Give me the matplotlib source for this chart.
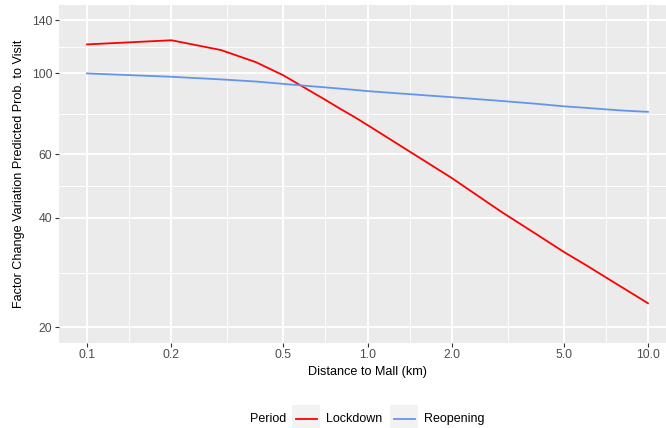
import numpy as np
import matplotlib.pyplot as plt
from matplotlib.lines import Line2D
from matplotlib.patches import Rectangle

plt.rcParams['font.family'] = ['Liberation Sans', 'DejaVu Sans']

# distance to mall (km) and factor change
distance = [0.1, 0.2, 0.3, 0.4, 0.5, 0.6, 0.7, 0.8, 0.9, 1.0,
            2.0, 3.0, 4.0, 5.0, 6.0, 7.0, 8.0, 9.0, 10.0]
lockdown = [120.2, 123.4, 116.0, 107.4, 98.9, 91.1, 85.0, 79.9, 75.8, 72.1,
            51.5, 41.6, 36.1, 32.3, 29.7, 27.6, 25.9, 24.5, 23.3]
reopening = [100.0, 97.9, 96.3, 95.0, 93.6, 92.5, 91.6, 90.8, 90.1, 89.4,
             86.0, 84.0, 82.5, 81.2, 80.4, 79.7, 79.1, 78.7, 78.4]

x_ticks = [0.1, 0.2, 0.5, 1.0, 2.0, 5.0, 10.0]
x_labels = ['0.1', '0.2', '0.5', '1.0', '2.0', '5.0', '10.0']
y_ticks = [20, 40, 60, 100, 140]

W, H = 666, 428
fig = plt.figure(figsize=(W / 100, H / 100), dpi=100)
# panel runs past the right edge, like the cropped original
ax = fig.add_axes([59 / W, 1 - 342.7 / H, (676 - 59) / W, (342.7 - 5) / H])

ax.set_facecolor('#EBEBEB')
for s in ax.spines.values():
    s.set_visible(False)

ax.plot(distance, lockdown, c='#FF0000', lw=1.3, label='Lockdown', zorder=3)
ax.plot(distance, reopening, c='#6495ED', lw=1.3, label='Reopening', zorder=3)

ax.set_xscale('log')
ax.set_yscale('log')
lx = np.log10([0.1, 10.0])
ly = np.log10([20, 140])
ex, ey = 0.05 * (lx[1] - lx[0]), 0.05 * (ly[1] - ly[0])
ax.set_xlim(10 ** (lx[0] - ex), 10 ** (lx[1] + ex))
ax.set_ylim(10 ** (ly[0] - ey), 10 ** (ly[1] + ey))

ax.set_xticks(x_ticks)
ax.set_xticklabels(x_labels)
ax.set_yticks(y_ticks)
ax.set_yticklabels([str(v) for v in y_ticks])
# ggplot style minor grid at midpoints (in log space) between breaks
ax.set_xticks(np.sqrt(np.array(x_ticks[:-1]) * np.array(x_ticks[1:])), minor=True)
ax.set_yticks(np.sqrt(np.array(y_ticks[:-1]) * np.array(y_ticks[1:])), minor=True)
ax.set_xticklabels([], minor=True)
ax.set_yticklabels([], minor=True)

ax.grid(which='major', color='white', lw=1.3)
ax.grid(which='minor', color='white', lw=0.65)
ax.set_axisbelow(True)

ax.tick_params(which='major', length=3, width=0.8, color='#333333',
               labelsize=8.8, labelcolor='#4D4D4D', pad=1.8)
ax.tick_params(which='minor', length=0)

ax.set_xlabel('Distance to Mall (km)', fontsize=9.1)
ax.set_ylabel('Factor Change Variation Predicted Prob. to Visit', fontsize=9.1, labelpad=5)
ax.xaxis.set_label_coords((367.5 - 59) / (676 - 59), -(366.5 - 342.7) / (342.7 - 5))

# legend along the bottom, drawn by hand like ggplot's
def px(x, y):
    return x / W, 1 - y / H

ly0 = 419
fig.text(*px(250, ly0), 'Period', fontsize=9, va='center', ha='left')
for x0, col, lab in [(292, '#FF0000', 'Lockdown'), (390, '#6495ED', 'Reopening')]:
    fig.add_artist(Rectangle(px(x0, ly0 + 14), 28 / W, 28 / H,
                             transform=fig.transFigure, facecolor='#F2F2F2',
                             edgecolor='none'))
    fig.add_artist(Line2D([(x0 + 3.5) / W, (x0 + 24.5) / W], [1 - ly0 / H] * 2,
                          transform=fig.transFigure, color=col, lw=1.3))
    fig.text(*px(x0 + 34, ly0), lab, fontsize=9, va='center', ha='left')

fig.savefig('out.png', dpi=100)
